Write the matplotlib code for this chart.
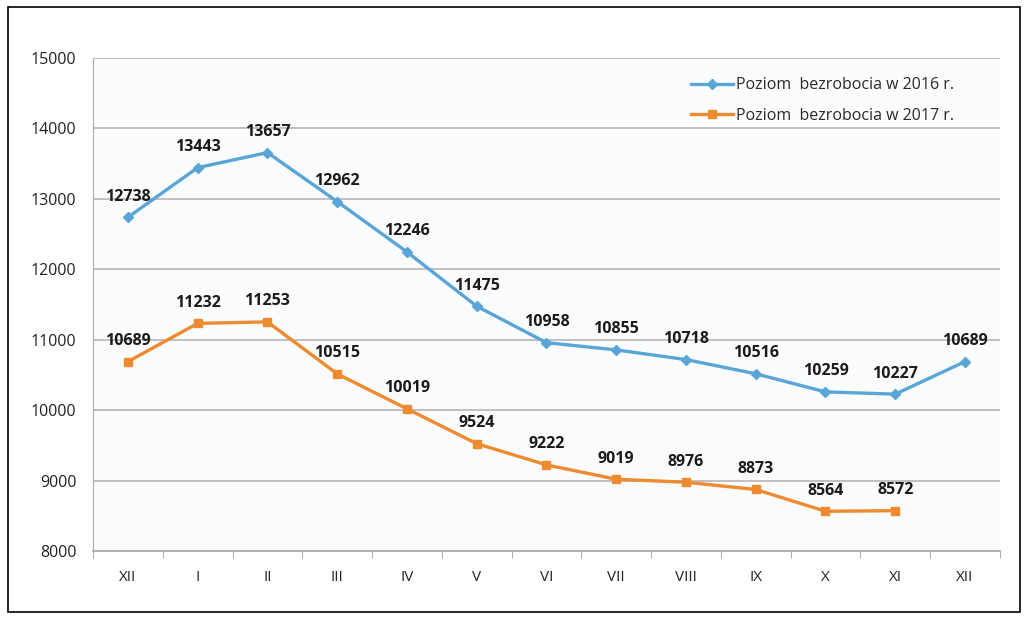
import matplotlib
matplotlib.use("Agg")
import matplotlib.pyplot as plt
from matplotlib.patches import Rectangle

plt.rcParams['font.family'] = ['Open Sans', 'DejaVu Sans']

months = ["XII", "I", "II", "III", "IV", "V", "VI", "VII", "VIII", "IX", "X", "XI", "XII"]
y2016 = [12738, 13443, 13657, 12962, 12246, 11475, 10958, 10855, 10718, 10516, 10259, 10227, 10689]
y2017 = [10689, 11232, 11253, 10515, 10019, 9524, 9222, 9019, 8976, 8873, 8564, 8572]
label2016 = "Poziom  bezrobocia w 2016 r."
label2017 = "Poziom  bezrobocia w 2017 r."

blue = "#5aa5d8"
orange = "#ee8a30"

fig = plt.figure(figsize=(10.27, 6.17), dpi=100)
ax = fig.add_axes([0.0906, 0.107, 0.883, 0.799])

x16 = list(range(len(y2016)))
x17 = list(range(len(y2017)))
ax.plot(x16, y2016, color=blue, lw=2.4, marker="D", ms=5.5, label=label2016)
ax.plot(x17, y2017, color=orange, lw=2.4, marker="s", ms=5.5, label=label2017)

for x, v in zip(x16, y2016):
    ax.annotate(str(v), (x, v), xytext=(0, 9), textcoords="offset points",
                ha="center", va="bottom", fontsize=11.5, fontweight="bold", color="#1a1a1a")
for x, v in zip(x17, y2017):
    ax.annotate(str(v), (x, v), xytext=(0, 9), textcoords="offset points",
                ha="center", va="bottom", fontsize=11.5, fontweight="bold", color="#1a1a1a")

ax.set_xlim(-0.5, len(months) - 0.5)
ax.set_ylim(8000, 15000)
ax.set_yticks(range(8000, 15001, 1000))
ax.set_xticks(range(len(months)))
ax.set_xticklabels(months)
ax.set_xticks([i + 0.5 for i in range(-1, len(months))], minor=True)
ax.tick_params(axis="x", which="major", length=0, pad=14, labelsize=11, colors="#222222")
ax.tick_params(axis="x", which="minor", length=5, color="#999999")
ax.tick_params(axis="y", length=0, pad=12, labelsize=11.5, colors="#222222")

ax.grid(axis="y", color="#bbbbbb", lw=1.3)
ax.set_axisbelow(True)
for s in ["top", "right"]:
    ax.spines[s].set_visible(False)
ax.spines["left"].set_color("#aaaaaa")
ax.spines["bottom"].set_color("#aaaaaa")
ax.spines["bottom"].set_linewidth(1.3)
ax.set_facecolor("#fbfcfd")

leg = ax.legend(loc="upper right", bbox_to_anchor=(0.965, 0.99), frameon=False,
                fontsize=11.5, handlelength=2.6, handletextpad=0.2, labelspacing=0.9)
for t in leg.get_texts():
    t.set_color("#2a2a2a")

fig.patches.append(Rectangle((0.008, 0.008), 0.985, 0.98, transform=fig.transFigure,
                             fill=False, edgecolor="black", lw=1.2))

fig.savefig("out.png", dpi=100)
